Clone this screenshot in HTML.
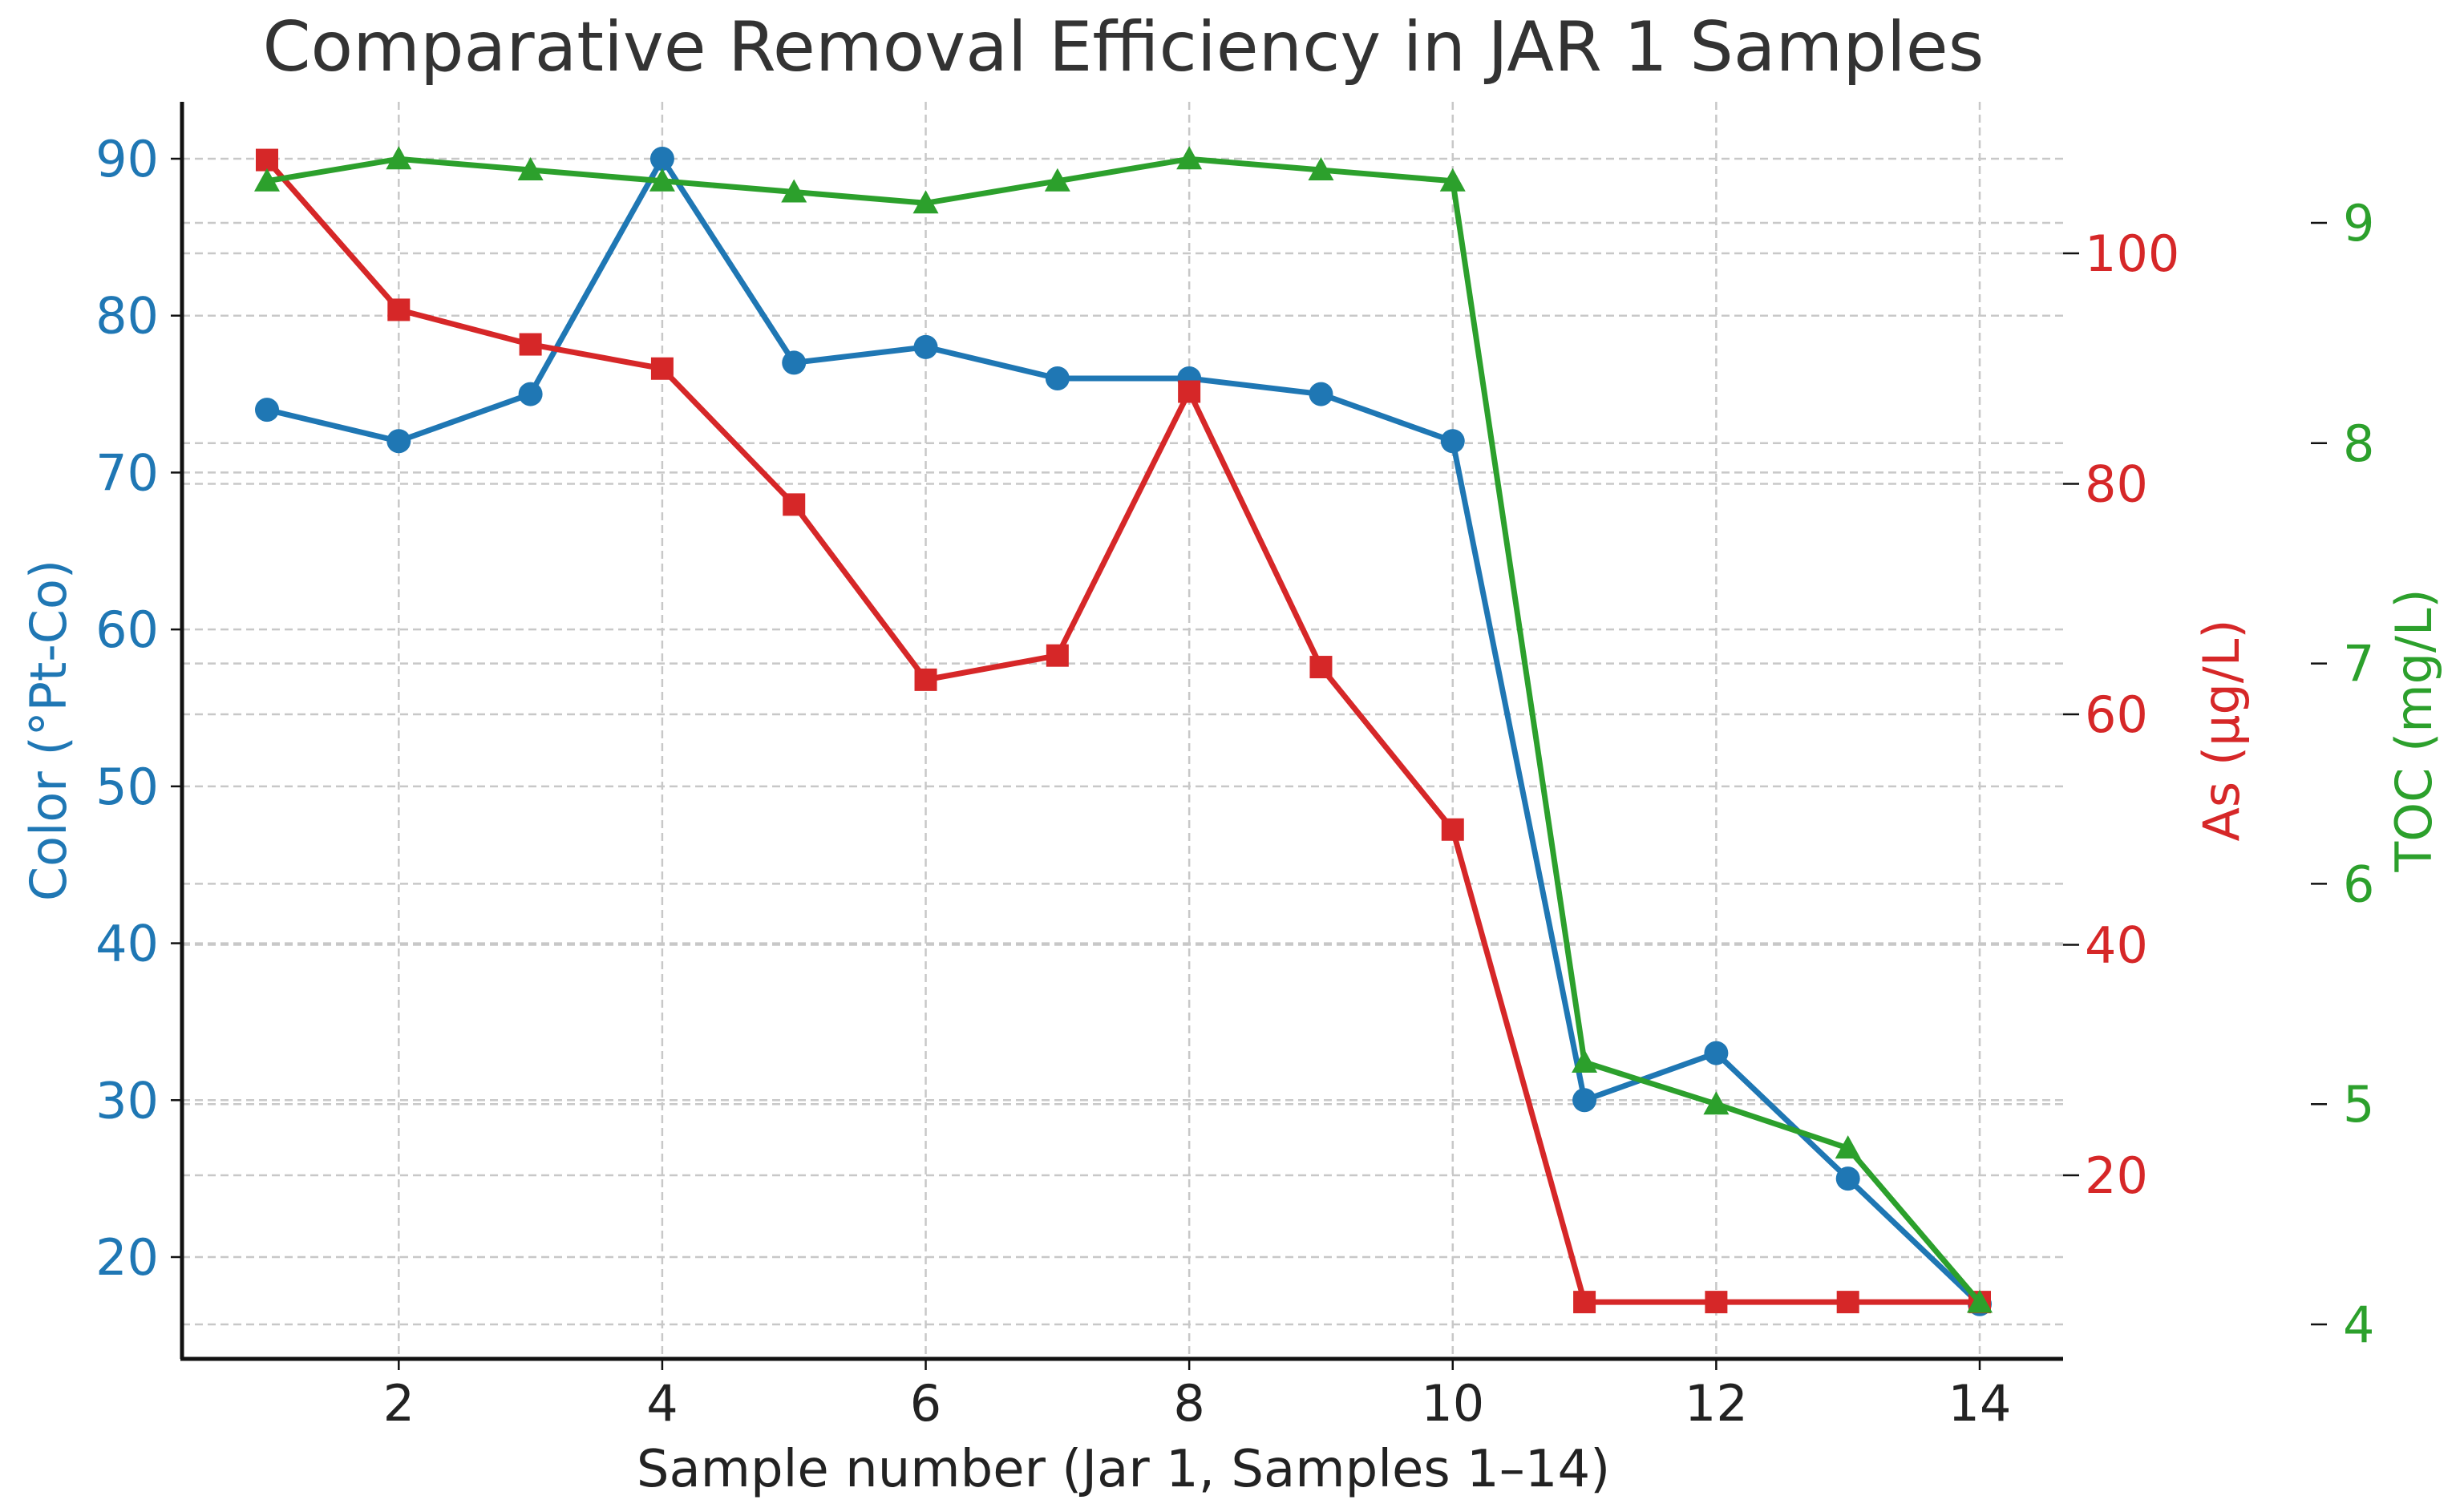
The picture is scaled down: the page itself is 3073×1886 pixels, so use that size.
<!DOCTYPE html>
<html><head><meta charset="utf-8"><style>
html,body{margin:0;padding:0;background:#fff;}
svg{display:block;font-family:"DejaVu Sans","Liberation Sans",sans-serif;}
</style></head><body>
<svg id="chart" width="3073" height="1886" viewBox="0 0 3073 1886" xmlns="http://www.w3.org/2000/svg">
<rect width="3073" height="1886" fill="#fff"/>
<text x="1401" y="88" text-anchor="middle" font-size="86" fill="#333">Comparative Removal Efficiency in JAR 1 Samples</text>
<g id="grid"></g><g id="axes"></g><g id="series"></g>
<text x="1401" y="1854" text-anchor="middle" font-size="64" fill="#222">Sample number (Jar 1, Samples 1–14)</text>
<text transform="translate(82,911) rotate(-90)" text-anchor="middle" font-size="62" fill="#1f77b4">Color (°Pt-Co)</text>
<text transform="translate(2792,911) rotate(-90)" text-anchor="middle" font-size="62" fill="#d62728">As (µg/L)</text>
<text transform="translate(3032,911) rotate(-90)" text-anchor="middle" font-size="62" fill="#2ca02c">TOC (mg/L)</text>
</svg>
<script>
const samples=[1,2,3,4,5,6,7,8,9,10,11,12,13,14];
const colorVals=[74,72,75,90,77,78,76,76,75,72,30,33,25,17];
const asVals=[108.1,95.1,92.1,90.0,78.2,63.0,65.1,88.0,64.1,50.0,9,9,9,9];
const tocVals=[9.19,9.29,9.24,9.19,9.14,9.09,9.19,9.29,9.24,9.19,5.19,5.0,4.8,4.1];
const xTicks=[2,4,6,8,10,12,14];
const colorTicks=[20,30,40,50,60,70,80,90];
const asTicks=[20,40,60,80,100];
const tocTicks=[4,5,6,7,8,9];

const NS="http://www.w3.org/2000/svg";
const L=227,R=2573,T=127,B=1695;
const x=v=>333+(v-1)*(2469-333)/13;
const yC=v=>1568+(v-20)*(198-1568)/70;
const yA=v=>1466+(v-20)*(316-1466)/80;
const yT=v=>1652+(v-4)*(278-1652)/5;
function mk(tag,attrs,parent){const e=document.createElementNS(NS,tag);for(const k in attrs)e.setAttribute(k,attrs[k]);parent.appendChild(e);return e;}
const grid=document.getElementById('grid'),axes=document.getElementById('axes'),ser=document.getElementById('series');
const gs={stroke:"#c8c8c8","stroke-width":2.5,"stroke-dasharray":"10,6"};
xTicks.forEach(v=>{const g=mk('line',Object.assign({x1:x(v),x2:x(v),y1:T,y2:B},gs),grid);

});
[[colorTicks,yC],[asTicks,yA],[tocTicks,yT]].forEach(([ts,f])=>ts.forEach(v=>{const g=mk('line',Object.assign({x1:L,x2:R,y1:f(v),y2:f(v)},gs),grid);

}));
const sp1=mk('line',{x1:L,x2:L,y1:T,y2:B,stroke:"#111","stroke-width":5},axes);


const sp2=mk('line',{x1:L-2,x2:R,y1:B,y2:B,stroke:"#111","stroke-width":5},axes);


xTicks.forEach(v=>{mk('line',{x1:x(v),x2:x(v),y1:B,y2:B+14,stroke:"#111","stroke-width":2.5},axes);
const t=mk('text',{x:x(v),y:1772,"text-anchor":"middle","font-size":62,fill:"#222"},axes);t.textContent=v;

});
colorTicks.forEach(v=>{mk('line',{x1:L-14,x2:L,y1:yC(v),y2:yC(v),stroke:"#111","stroke-width":2.5},axes);
const t=mk('text',{x:198,y:yC(v)+22,"text-anchor":"end","font-size":62,fill:"#1f77b4"},axes);t.textContent=v;

});
asTicks.forEach(v=>{mk('line',{x1:R,x2:R+20,y1:yA(v),y2:yA(v),stroke:"#111","stroke-width":2.5},axes);
const t=mk('text',{x:2600,y:yA(v)+22,"font-size":62,fill:"#d62728"},axes);t.textContent=v;

});
tocTicks.forEach(v=>{mk('line',{x1:2882,x2:2902,y1:yT(v),y2:yT(v),stroke:"#111","stroke-width":2.5},axes);
const t=mk('text',{x:2922,y:yT(v)+22,"font-size":62,fill:"#2ca02c"},axes);t.textContent=v;

});
function series(vals,f,col,shape,name){
 const pts=vals.map((v,i)=>[x(samples[i]),f(v)]);
 const pl=mk('polyline',{points:pts.map(p=>p.join(',')).join(' '),fill:"none",stroke:col,"stroke-width":7,"stroke-linejoin":"round"},ser);
 
 
 pts.forEach(([px,py])=>{let m;
  if(shape==='c')m=mk('circle',{cx:px,cy:py,r:15,fill:col},ser);
  else if(shape==='s')m=mk('rect',{x:px-14,y:py-14,width:28,height:28,fill:col},ser);
  else m=mk('polygon',{points:`${px},${py-16} ${px-16},${py+13} ${px+16},${py+13}`,fill:col},ser);
  
  });
}
series(colorVals,yC,"#1f77b4",'c','color-series');
series(asVals,yA,"#d62728",'s','as-series');
series(tocVals,yT,"#2ca02c",'t','toc-series');
</script>
</body></html>
